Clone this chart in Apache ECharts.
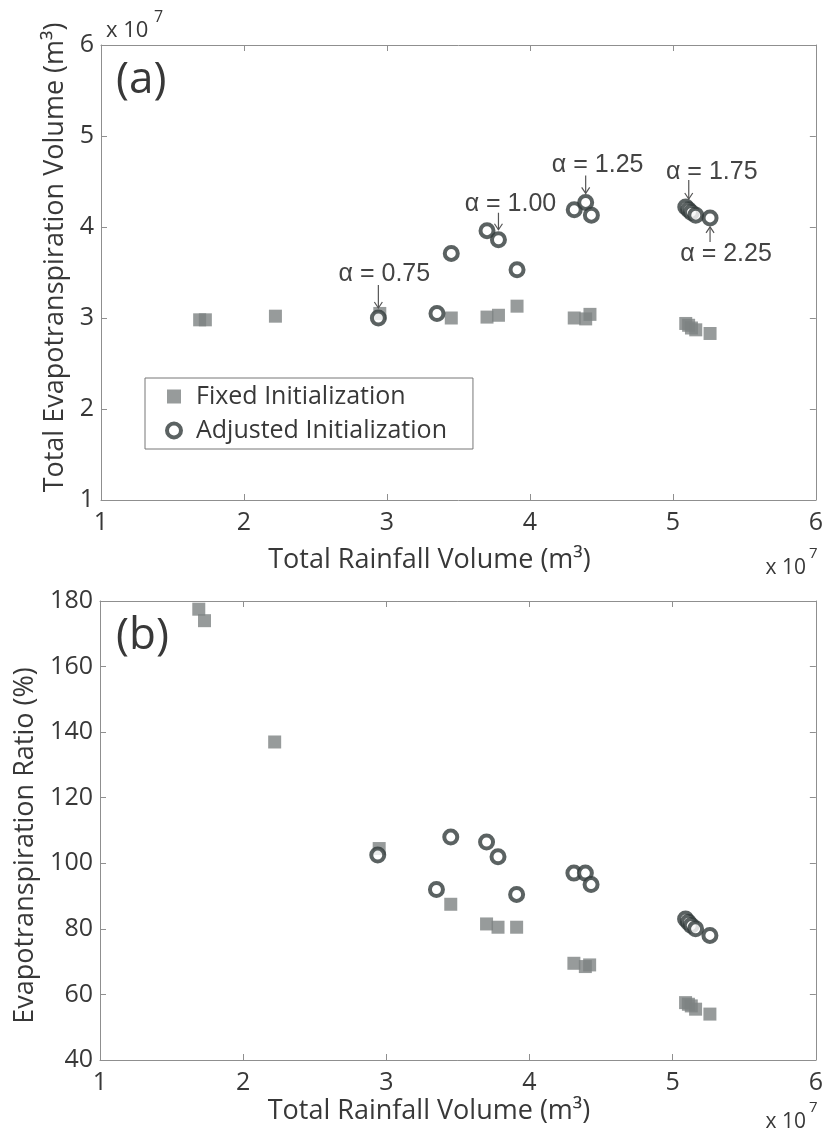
<!DOCTYPE html>
<html>
<head>
<meta charset="utf-8">
<script src="https://cdn.jsdelivr.net/npm/echarts@6/dist/echarts.min.js"></script>
<style>
html, body { margin: 0; padding: 0; background: #fff; }
#etChart { width: 826px; height: 1141px; }
</style>
</head>
<body>
<div id="etChart"></div>
<script>
// rainfall / ET volumes are in units of 1e7 m3
const rainFixed = [1.69, 1.73, 2.22, 2.95, 3.45, 3.70, 3.78, 3.91, 4.31, 4.39, 4.42, 5.09, 5.11, 5.13, 5.16, 5.26]
const etFixed = [2.98, 2.98, 3.02, 3.05, 3.00, 3.01, 3.03, 3.13, 3.00, 2.99, 3.04, 2.94, 2.92, 2.89, 2.87, 2.83]
const ratioFixed = [177.5, 174, 137, 104.5, 87.5, 81.5, 80.5, 80.5, 69.5, 68.5, 69, 57.5, 57, 56.5, 55.5, 54]

const rainAdj = [2.94, 3.35, 3.45, 3.70, 3.78, 3.91, 4.31, 4.39, 4.43, 5.09, 5.11, 5.13, 5.16, 5.26]
const etAdj = [3.00, 3.05, 3.71, 3.96, 3.86, 3.53, 4.19, 4.27, 4.13, 4.22, 4.19, 4.16, 4.13, 4.10]
const ratioAdj = [102.5, 92, 108, 106.5, 102, 90.5, 97, 97, 93.5, 83, 82, 81, 80, 78]

const xTicks = [1, 6, 1]        // min, max, step
const etTicks = [1, 6, 1]
const ratioTicks = [40, 180, 20]

// alpha labels: which adjusted point they point at
const alphaLabels = ['α = 0.75', 'α = 1.00', 'α = 1.25', 'α = 1.75', 'α = 2.25']
const alphaIdx = [0, 4, 7, 9, 13]

const txt = '#383838'
const axisCol = '#8f8f8f'
const font = 'Open Sans'

let zip = (a, b) => a.map((v, i) => [v, b[i]])

let axisBase = (gridIndex, position, ticks, showLabel) => ({
    gridIndex: gridIndex,
    type: 'value',
    position: position,
    min: ticks[0],
    max: ticks[1],
    interval: ticks[2],
    axisLine: { show: true, onZero: false, lineStyle: { color: axisCol, width: 1 } },
    axisTick: { show: true, inside: true, length: 6, lineStyle: { color: axisCol } },
    axisLabel: { show: showLabel, fontSize: 25, color: txt, fontFamily: font, margin: 10 },
    splitLine: { show: false },
})

let nameStyle = (pad) => ({ fontSize: 27, color: txt, fontFamily: font, padding: pad })

let xA = axisBase(0, 'bottom', xTicks, true)
xA.name = 'Total Rainfall Volume (m³)'
xA.nameLocation = 'middle'
xA.nameGap = 47
xA.nameTextStyle = nameStyle([0, 58, 0, 0])

let xB = axisBase(1, 'bottom', xTicks, true)
xB.name = 'Total Rainfall Volume (m³)'
xB.nameLocation = 'middle'
xB.nameGap = 38
xB.nameTextStyle = nameStyle([0, 58, 0, 0])

let yA = axisBase(0, 'left', etTicks, true)
yA.axisLabel.margin = 7
yA.name = 'Total Evapotranspiration Volume (m³)'
yA.nameLocation = 'middle'
yA.nameGap = 24
yA.nameTextStyle = nameStyle([0, 0, 0, 30])

let yB = axisBase(1, 'left', ratioTicks, true)
yB.axisLabel.margin = 7
yB.name = 'Evapotranspiration Ratio (%)'
yB.nameLocation = 'middle'
yB.nameGap = 57
yB.nameTextStyle = nameStyle([0, 30, 0, 0])

const squareStyle = { color: '#7d8282' }
const ringStyle = { color: '#ffffff', borderColor: '#323b3b', borderWidth: 4 }

let fixedSeries = (xi, data) => ({
    name: 'Fixed Initialization',
    type: 'scatter',
    xAxisIndex: xi, yAxisIndex: xi,
    symbol: 'rect', symbolSize: 13,
    itemStyle: squareStyle,
    data: data,
    z: 2,
})
let adjSeries = (xi, data) => ({
    name: 'Adjusted Initialization',
    type: 'scatter',
    xAxisIndex: xi, yAxisIndex: xi,
    symbol: 'circle', symbolSize: 13,
    itemStyle: ringStyle,
    data: data,
    z: 3,
})

let myChart = echarts.init(document.getElementById('etChart'))
let option = {
    backgroundColor: '#fff',
    animation: false,
    grid: [
        { left: 101, top: 45, width: 718, height: 455 },
        { left: 100, top: 601, width: 718, height: 459 },
    ],
    legend: {
        data: [
            { name: 'Fixed Initialization', itemStyle: { color: '#7d8282' } },
            { name: 'Adjusted Initialization', itemStyle: { color: '#fff', borderColor: '#323b3b', borderWidth: 4 } },
        ],
        orient: 'vertical',
        left: 145,
        top: 378,
        borderColor: '#777',
        borderWidth: 1,
        padding: [6, 26, 6, 20],
        itemGap: 9,
        itemWidth: 14,
        itemHeight: 14,
        textStyle: { fontSize: 25, color: txt, fontFamily: font, padding: [0, 0, 0, 10] },
    },
    xAxis: [
        xA,
        axisBase(0, 'top', xTicks, false),
        xB,
        axisBase(1, 'top', xTicks, false),
    ],
    yAxis: [
        yA,
        axisBase(0, 'right', etTicks, false),
        yB,
        axisBase(1, 'right', ratioTicks, false),
    ],
    series: [
        fixedSeries(0, zip(rainFixed, etFixed)),
        adjSeries(0, zip(rainAdj, etAdj)),
        fixedSeries(2, zip(rainFixed, ratioFixed)),
        adjSeries(2, zip(rainAdj, ratioAdj)),
    ],
}
myChart.setOption(option)

// text bits and the alpha arrows
let tx = (text, x, y, size, align) => ({
    type: 'text', x: x, y: y, z: 10,
    style: { text: text, fontSize: size, fill: txt, fontFamily: font, verticalAlign: 'middle', align: align || 'left' },
})

let gfx = [
    tx('(a)', 116, 80, 44),
    tx('(b)', 116, 636, 44),
    tx('x 10', 106, 31, 22),
    tx('7', 154, 17, 16),
    tx('x 10', 806, 568, 21, 'right'),
    tx('7', 809, 554, 15),
    tx('x 10', 806, 1122, 21, 'right'),
    tx('7', 809, 1108, 15),
]

const labelOff = [[6, -44], [12, -36], [12, -37], [26, -35], [16, 36]]
const arrowSpan = [[-33, -10], [-27, -10], [-27, -9], [-27, -8], [24, 9]]
const arrowDx = [0, 0, 0, 3, 0]

alphaIdx.forEach((idx, k) => {
    let p = myChart.convertToPixel({ gridIndex: 0 }, [rainAdj[idx], etAdj[idx]])
    let ax = p[0] + arrowDx[k]
    let y0 = p[1] + arrowSpan[k][0]
    let y1 = p[1] + arrowSpan[k][1]
    let dir = y1 > y0 ? 1 : -1
    gfx.push({
        type: 'text', x: p[0] + labelOff[k][0], y: p[1] + labelOff[k][1], z: 10,
        style: { text: alphaLabels[k], fontSize: 25, fill: '#444', fontFamily: 'Liberation Sans', align: 'center', verticalAlign: 'middle' },
    })
    gfx.push({
        type: 'line', z: 10,
        shape: { x1: ax, y1: y0, x2: ax, y2: y1 },
        style: { stroke: '#555', lineWidth: 1.2 },
    })
    gfx.push({
        type: 'polyline', z: 10,
        shape: { points: [[ax - 4, y1 - dir * 6], [ax, y1], [ax + 4, y1 - dir * 6]] },
        style: { stroke: '#555', lineWidth: 1.2, fill: null },
    })
})

myChart.setOption({ graphic: gfx })
</script>
</body>
</html>
